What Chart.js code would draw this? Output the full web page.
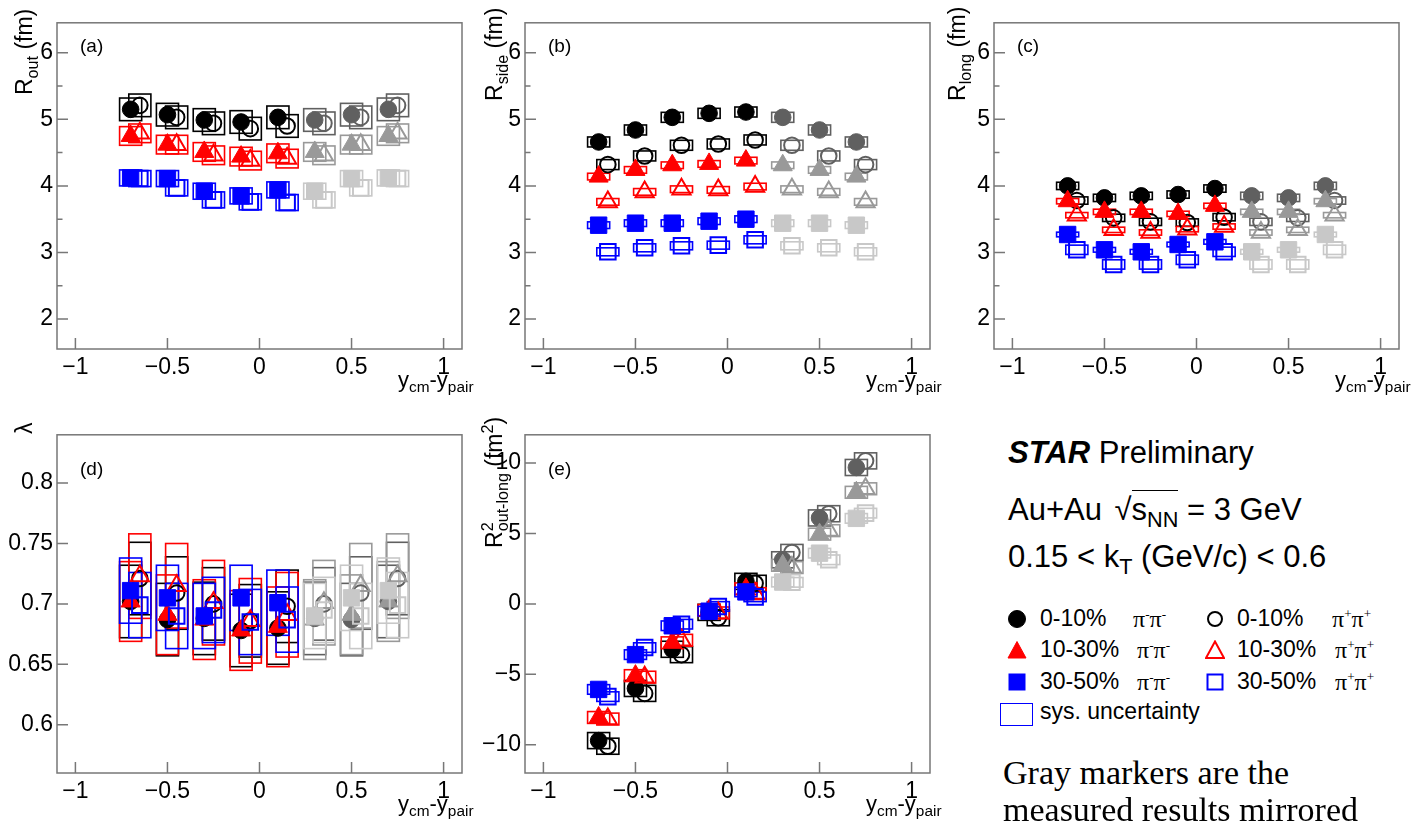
<!DOCTYPE html>
<html>
<head>
<meta charset="utf-8">
<script src="https://cdn.jsdelivr.net/npm/chart.js@4.4.1/dist/chart.umd.min.js"></script>
<style>
  html, body { margin: 0; padding: 0; background: #fff; }
  body { position: relative; width: 1412px; height: 826px; overflow: hidden; font-family: "Liberation Sans", Arial, sans-serif; }
  canvas { position: absolute; }
  .t { position: absolute; white-space: nowrap; line-height: 1; color: #000; }
  .rot { transform: rotate(-90deg); transform-origin: 0 0; }
  .t sub, .t sup { font-size: 70%; line-height: 0; }
  .pi { font-family: "Liberation Serif", serif; }
  .pi sup { font-size: 55%; }
</style>
</head>
<body>
<canvas id="pa"></canvas>
<canvas id="pb"></canvas>
<canvas id="pc"></canvas>
<canvas id="pd"></canvas>
<canvas id="pe"></canvas>
<script>
// x positions: five measured bins, then the three mirrored (gray) ones
const xPiMinus = [-0.7, -0.5, -0.3, -0.1, 0.1, 0.3, 0.5, 0.7];
const xPiPlus  = [-0.65, -0.45, -0.25, -0.05, 0.15, 0.35, 0.55, 0.75];

// tick values
const xTickVals   = [-1, -0.5, 0, 0.5, 1];
const rTickVals   = [2, 3, 4, 5, 6];
const rMinorVals  = [2.5, 3.5, 4.5, 5.5];
const lamTickVals = [0.6, 0.65, 0.7, 0.75, 0.8];
const olTickVals  = [-10, -5, 0, 5, 10];

// R_out (fm)
const rOut_0_10_pim  = [5.15, 5.07, 4.99, 4.96, 5.03, 4.99, 5.07, 5.15];
const rOut_0_10_pip  = [5.21, 5.03, 4.94, 4.86, 4.90, 4.94, 5.03, 5.21];
const rOut_10_30_pim = [4.75, 4.62, 4.51, 4.44, 4.49, 4.51, 4.62, 4.75];
const rOut_10_30_pip = [4.79, 4.62, 4.46, 4.38, 4.41, 4.46, 4.62, 4.79];
const rOut_30_50_pim = [4.12, 4.11, 3.92, 3.85, 3.94, 3.92, 4.11, 4.12];
const rOut_30_50_pip = [4.11, 3.97, 3.79, 3.76, 3.75, 3.79, 3.97, 4.11];

// R_side (fm)
const rSide_0_10_pim  = [4.66, 4.84, 5.03, 5.09, 5.11, 5.03, 4.84, 4.66];
const rSide_0_10_pip  = [4.32, 4.45, 4.61, 4.63, 4.69, 4.61, 4.45, 4.32];
const rSide_10_30_pim = [4.14, 4.24, 4.31, 4.33, 4.38, 4.31, 4.24, 4.14];
const rSide_10_30_pip = [3.76, 3.91, 3.95, 3.94, 3.99, 3.95, 3.91, 3.76];
const rSide_30_50_pim = [3.41, 3.44, 3.44, 3.47, 3.50, 3.44, 3.44, 3.41];
const rSide_30_50_pip = [3.01, 3.07, 3.10, 3.11, 3.19, 3.10, 3.07, 3.01];

// R_long (fm)
const rLong_0_10_pim  = [4.00, 3.82, 3.85, 3.87, 3.96, 3.85, 3.82, 4.00];
const rLong_0_10_pip  = [3.78, 3.52, 3.46, 3.45, 3.53, 3.46, 3.52, 3.78];
const rLong_10_30_pim = [3.77, 3.61, 3.61, 3.58, 3.70, 3.61, 3.61, 3.77];
const rLong_10_30_pip = [3.56, 3.34, 3.30, 3.35, 3.39, 3.30, 3.34, 3.56];
const rLong_30_50_pim = [3.27, 3.04, 3.01, 3.12, 3.16, 3.01, 3.04, 3.27];
const rLong_30_50_pip = [3.04, 2.82, 2.82, 2.89, 3.01, 2.82, 2.82, 3.04];

// lambda
const lam_0_10_pim  = [0.702, 0.687, 0.688, 0.678, 0.680, 0.688, 0.687, 0.702];
const lam_0_10_pip  = [0.721, 0.709, 0.700, 0.686, 0.698, 0.700, 0.709, 0.721];
const lam_10_30_pim = [0.702, 0.691, 0.687, 0.678, 0.681, 0.687, 0.691, 0.702];
const lam_10_30_pip = [0.723, 0.715, 0.701, 0.686, 0.691, 0.701, 0.715, 0.723];
const lam_30_50_pim = [0.711, 0.705, 0.690, 0.705, 0.701, 0.690, 0.705, 0.711];
const lam_30_50_pip = [0.699, 0.690, 0.695, 0.685, 0.687, 0.695, 0.690, 0.699];

// R^2_out-long (fm^2)
const ol_0_10_pim  = [-9.70, -6.00, -3.22, -0.60, 1.60, 3.13, 6.10, 9.68];
const ol_0_10_pip  = [-10.1, -6.35, -3.60, -0.98, 1.46, 3.65, 6.40, 10.15];
const ol_10_30_pim = [-8.06, -5.09, -2.76, -0.46, 1.07, 2.74, 4.95, 7.92];
const ol_10_30_pip = [-8.17, -5.20, -2.58, -0.64, 0.73, 2.58, 5.20, 8.17];
const ol_30_50_pim = [-6.07, -3.60, -1.55, -0.52, 0.85, 1.55, 3.60, 6.07];
const ol_30_50_pip = [-6.58, -3.10, -1.44, -0.18, 0.50, 1.53, 3.13, 6.44];

// systematic half-heights, order: 30-50 pi-, 30-50 pi+, 10-30 pi-, 10-30 pi+, 0-10 pi-, 0-10 pi+
const sysROut  = [0.12, 0.12, 0.14, 0.14, 0.17, 0.17];
const sysRSide = [0.05, 0.06, 0.05, 0.05, 0.075, 0.075];
const sysRLong = [0.035, 0.07, 0.04, 0.04, 0.055, 0.055];
const sysLam   = [0.027, 0.027, 0.033, 0.035, 0.030, 0.030];
const sysOL    = [0.34, 0.34, 0.42, 0.42, 0.57, 0.57];

// marker look per series (first in list is drawn on top)
const seriesDefs = [
  { style: 'rect',     filled: true,  color: '#0000ff', gray: '#c8c8c8', radius: 11.6, xs: xPiMinus },
  { style: 'rect',     filled: false, color: '#0000ff', gray: '#c8c8c8', radius: 11,   xs: xPiPlus },
  { style: 'triangle', filled: true,  color: '#ff0000', gray: '#999999', radius: 11,   xs: xPiMinus },
  { style: 'triangle', filled: false, color: '#ff0000', gray: '#999999', radius: 10.5, xs: xPiPlus },
  { style: 'circle',   filled: true,  color: '#000000', gray: '#606060', radius: 8.3,  xs: xPiMinus },
  { style: 'circle',   filled: false, color: '#000000', gray: '#606060', radius: 7.8,  xs: xPiPlus }
];

const FRAME = '#777777';
const BOX_HALF_W = 0.06;
Chart.defaults.font.family = '"Liberation Sans", Arial, sans-serif';

// sys boxes, frame and inward ticks
const rootStyle = {
  id: 'rootStyle',
  beforeDatasetsDraw(chart) {
    const { ctx, scales: { x, y } } = chart;
    ctx.save();
    ctx.lineWidth = 1.6;
    for (let d = chart.data.datasets.length - 1; d >= 0; d--) {
      const ds = chart.data.datasets[d];
      ds.data.forEach((p, i) => {
        const x0 = x.getPixelForValue(p.x - BOX_HALF_W), x1 = x.getPixelForValue(p.x + BOX_HALF_W);
        const y0 = y.getPixelForValue(p.y + ds.sys), y1 = y.getPixelForValue(p.y - ds.sys);
        ctx.strokeStyle = ds.pointBorderColor[i];
        ctx.strokeRect(x0, y0, x1 - x0, y1 - y0);
      });
    }
    ctx.restore();
  },
  afterDraw(chart) {
    const { ctx, chartArea: a, scales: { x, y } } = chart;
    const minor = chart.options.plugins.rootStyle.yMinor || [];
    ctx.save();
    ctx.strokeStyle = FRAME;
    ctx.lineWidth = 1.5;
    ctx.strokeRect(a.left, a.top, a.right - a.left, a.bottom - a.top);
    ctx.beginPath();
    y.ticks.forEach(t => { const p = y.getPixelForValue(t.value); ctx.moveTo(a.left, p); ctx.lineTo(a.left + 11, p); });
    minor.forEach(v => { const p = y.getPixelForValue(v); ctx.moveTo(a.left, p); ctx.lineTo(a.left + 5.5, p); });
    x.ticks.forEach(t => { const p = x.getPixelForValue(t.value); ctx.moveTo(p, a.bottom); ctx.lineTo(p, a.bottom - 11); });
    ctx.stroke();
    ctx.restore();
  }
};

const fmt = v => String(Number(v.toFixed(2))).replace('-', '\u2212');

const ML = 57, MT = 6, MR = 2, MB = 40;

function makePanel(id, box, yMin, yMax, yTicks, yMinor, series, sys) {
  const [L, T, R, B] = box;
  const cv = document.getElementById(id);
  cv.width = R - L + ML + MR;
  cv.height = B - T + MT + MB;
  cv.style.left = (L - ML) + 'px';
  cv.style.top = (T - MT) + 'px';

  const datasets = seriesDefs.map((s, k) => {
    const cols = series[k].map((v, i) => (i < 5 ? s.color : s.gray));
    return {
      data: series[k].map((v, i) => ({ x: s.xs[i], y: v })),
      sys: sys[k],
      pointStyle: s.style,
      pointRadius: s.radius,
      pointBorderWidth: s.filled ? 1 : 2,
      pointBorderColor: cols,
      pointBackgroundColor: s.filled ? cols : 'rgba(0,0,0,0)',
      showLine: false
    };
  });

  new Chart(cv, {
    type: 'scatter',
    data: { datasets },
    options: {
      responsive: false,
      animation: false,
      events: [],
      layout: { padding: { top: MT, right: MR, left: 0, bottom: 0 } },
      plugins: { legend: { display: false }, tooltip: { enabled: false }, rootStyle: { yMinor } },
      scales: {
        x: {
          type: 'linear', min: -1.1, max: 1.1,
          grid: { display: false, drawTicks: false },
          border: { display: false },
          afterBuildTicks: sc => { sc.ticks = xTickVals.map(v => ({ value: v })); },
          afterFit: sc => { sc.height = MB; },
          ticks: { color: '#000', font: { size: 23 }, padding: 5, maxRotation: 0, autoSkip: false, callback: fmt }
        },
        y: {
          type: 'linear', min: yMin, max: yMax,
          grid: { display: false, drawTicks: false },
          border: { display: false },
          afterBuildTicks: sc => { sc.ticks = yTicks.map(v => ({ value: v })); },
          afterFit: sc => { sc.width = ML; },
          ticks: { color: '#000', font: { size: 23 }, padding: 4, autoSkip: false, callback: fmt }
        }
      }
    },
    plugins: [rootStyle]
  });
}

makePanel('pa', [57, 11, 473, 349], 1.55, 6.45, rTickVals, rMinorVals,
  [rOut_30_50_pim, rOut_30_50_pip, rOut_10_30_pim, rOut_10_30_pip, rOut_0_10_pim, rOut_0_10_pip], sysROut);
makePanel('pb', [525, 11, 941, 349], 1.55, 6.45, rTickVals, rMinorVals,
  [rSide_30_50_pim, rSide_30_50_pip, rSide_10_30_pim, rSide_10_30_pip, rSide_0_10_pim, rSide_0_10_pip], sysRSide);
makePanel('pc', [994, 11, 1410, 349], 1.55, 6.45, rTickVals, rMinorVals,
  [rLong_30_50_pim, rLong_30_50_pip, rLong_10_30_pim, rLong_10_30_pip, rLong_0_10_pim, rLong_0_10_pip], sysRLong);
makePanel('pd', [57, 423, 473, 773], 0.56, 0.84, lamTickVals, [],
  [lam_30_50_pim, lam_30_50_pip, lam_10_30_pim, lam_10_30_pip, lam_0_10_pim, lam_0_10_pip], sysLam);
makePanel('pe', [525, 423, 941, 773], -12, 12, olTickVals, [],
  [ol_30_50_pim, ol_30_50_pip, ol_10_30_pim, ol_10_30_pip, ol_0_10_pim, ol_0_10_pip], sysOL);

// ---- text (real DOM text) ----
function addText(html, x, baseline, size, cls) {
  const d = document.createElement('div');
  d.className = 't' + (cls ? ' ' + cls : '');
  d.innerHTML = html;
  d.style.fontSize = size + 'px';
  d.style.left = x + 'px';
  d.style.top = (baseline - 0.85 * size) + 'px';
  document.body.appendChild(d);
  return d;
}
function addRight(html, right, baseline, size) {
  const d = addText(html, 0, baseline, size);
  d.style.left = (right - d.offsetWidth) + 'px';
}
function addVert(html, baseX, startY, size) {
  const d = addText(html, baseX - 0.85 * size, 0, size, 'rot');
  d.style.top = startY + 'px';
}

const xTitle = 'y<sub>cm</sub>-y<sub>pair</sub>';
addRight(xTitle, 474, 388, 22);
addRight(xTitle, 942, 388, 22);
addRight(xTitle, 1411, 388, 22);
addRight(xTitle, 474, 812, 22);
addRight(xTitle, 942, 812, 22);

addVert('R<sub>out</sub> (fm)', 33, 95, 23);
addVert('R<sub>side</sub> (fm)', 503, 101, 23);
addVert('R<sub>long</sub> (fm)', 966, 101, 23);
addVert('&lambda;', 33, 434, 23);
addVert('R<sup>2</sup><sub style="margin-left:-0.55em">out-long</sub> (fm<sup>2</sup>)', 503, 548, 23);

addText('(a)', 80, 52, 19);
addText('(b)', 548, 52, 19);
addText('(c)', 1017, 52, 19);
addText('(d)', 80, 475, 19);
addText('(e)', 548, 475, 19);

// header
addText('<b><i>STAR</i></b> Preliminary', 1008, 463, 31);
addText('Au+Au <span style="margin-left:4px">\u221A</span><span style="border-top:1.5px solid #000;padding-top:1px">s<sub>NN</sub></span> = 3 GeV', 1008, 520, 31);
addText('0.15 &lt; k<sub>T</sub> (GeV/c) &lt; 0.6', 1008, 567, 31);

// legend rows
function marker(shape, filled, color, cx, cy) {
  const s = 20;
  let inner;
  const fill = filled ? color : 'none';
  if (shape === 'circle') inner = `<circle cx="10" cy="10" r="${filled ? 8.5 : 7}" fill="${fill}" stroke="${color}" stroke-width="${filled ? 1 : 2}"/>`;
  else if (shape === 'triangle') inner = `<polygon points="10,1.5 19,18 1,18" fill="${fill}" stroke="${color}" stroke-width="${filled ? 1 : 2}"/>`;
  else inner = filled ? `<rect x="1.5" y="1.5" width="17" height="17" fill="${color}"/>` : `<rect x="2.5" y="2.5" width="15" height="15" fill="none" stroke="${color}" stroke-width="2"/>`;
  const d = document.createElement('div');
  d.style.cssText = `position:absolute;left:${cx - s / 2}px;top:${cy - s / 2}px;width:${s}px;height:${s}px`;
  d.innerHTML = `<svg width="${s}" height="${s}" viewBox="0 0 20 20">${inner}</svg>`;
  document.body.appendChild(d);
}
const legendRows = [
  { shape: 'circle',   color: '#000000', label: '0-10%',  base: 627 },
  { shape: 'triangle', color: '#ff0000', label: '10-30%', base: 658 },
  { shape: 'rect',     color: '#0000ff', label: '30-50%', base: 690 }
];
legendRows.forEach((r, i) => {
  marker(r.shape, true, r.color, 1017, r.base - 8.5);
  marker(r.shape, false, r.color, 1215, r.base - 8.5);
  addText(r.label, 1040, r.base, 23);
  addText(r.label, 1237, r.base, 23);
  addText('<span class="pi">\u03C0<sup>-</sup>\u03C0<sup>-</sup></span>', i === 0 ? 1133 : 1137, r.base, 24);
  addText('<span class="pi">\u03C0<sup>+</sup>\u03C0<sup>+</sup></span>', i === 0 ? 1332 : 1335, r.base, 24);
});
const sb = document.createElement('div');
sb.style.cssText = 'position:absolute;left:1000px;top:703px;width:31px;height:21px;border:1.5px solid #0000ff';
document.body.appendChild(sb);
addText('sys. uncertainty', 1040, 720, 23);

addText('Gray markers are the', 1003, 785, 34, 'pi');
addText('measured results mirrored', 1003, 822, 34, 'pi');
</script>
</body>
</html>
